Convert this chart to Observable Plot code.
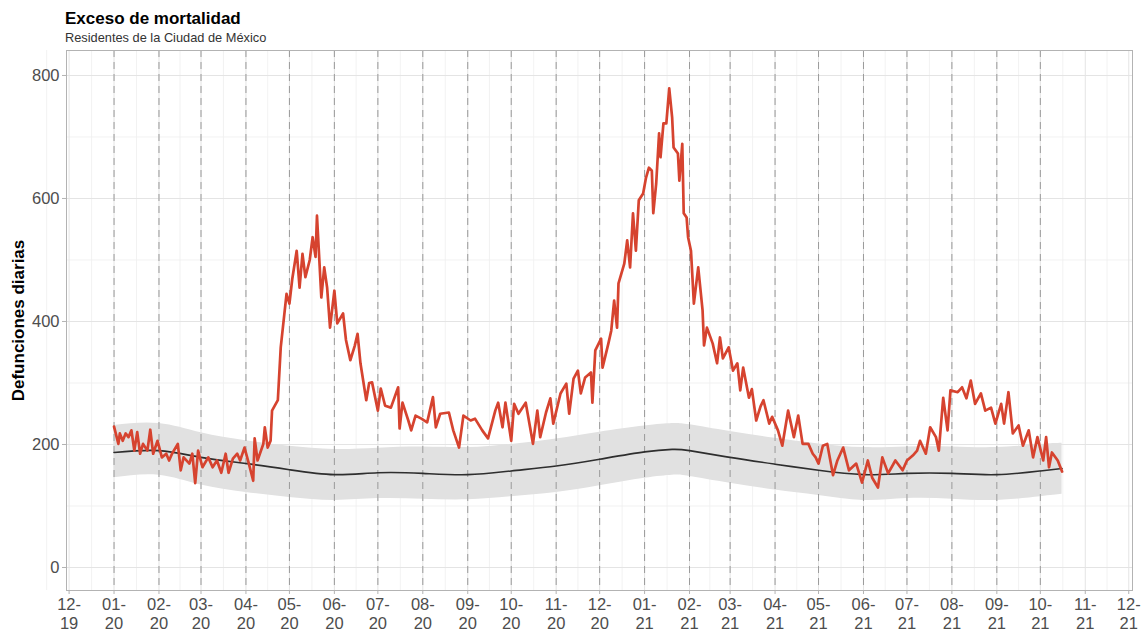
<!DOCTYPE html>
<html>
<head>
<meta charset="utf-8">
<script src="https://cdn.jsdelivr.net/npm/d3@7"></script>
<script src="https://cdn.jsdelivr.net/npm/@observablehq/plot@0.6"></script>
<style>
  html, body { margin: 0; padding: 0; background: #fff; overflow: hidden; }
  #wrap { position: relative; width: 1141px; height: 631px; font-family: "Liberation Sans", Arial, Helvetica, sans-serif; }
  #title { position: absolute; left: 65px; top: 9.9px; font-size: 17px; font-weight: bold; color: #000; line-height: 17px; white-space: nowrap; }
  #subtitle { position: absolute; left: 65px; top: 30.8px; font-size: 12.8px; color: #333; line-height: 13px; white-space: nowrap; }
  #chart { position: absolute; left: 0; top: 44px; }
  #chart svg { display: block; }
</style>
</head>
<body>
<div id="wrap">
  <div id="title">Exceso de mortalidad</div>
  <div id="subtitle">Residentes de la Ciudad de México</div>
  <div id="chart"></div>
</div>
<script>
const obsStart = "2020-01-01";
const obsDay = [
  0, 3, 4, 6, 8, 10, 12, 14, 16, 18, 20, 23, 25, 27, 30, 33, 36, 38, 40, 44,
  46, 48, 52, 54, 56, 58, 61, 65, 68, 71, 74, 77, 79, 82, 85, 87, 90, 93, 96, 97,
  99, 103, 104, 106, 108, 109, 113, 115, 119, 121, 123, 126, 128, 130, 132, 135, 137, 139, 140, 143,
  145, 147, 149, 152, 154, 158, 160, 163, 166, 168, 170, 174, 176, 178, 182, 184, 187, 191, 196, 197,
  199, 203, 205, 208, 212, 216, 220, 222, 225, 231, 234, 238, 241, 246, 249, 254, 258, 263, 265, 268,
  270, 274, 276, 279, 284, 287, 289, 292, 294, 298, 301, 303, 308, 312, 314, 317, 320, 322, 325, 329,
  330, 332, 336, 337, 341, 343, 345, 347, 348, 352, 354, 356, 358, 360, 362, 365, 367, 369, 371, 372,
  374, 376, 377, 379, 381, 383, 385, 386, 389, 390, 392, 393, 395, 396, 398, 400, 403, 406, 407, 409,
  413, 416, 418, 420, 424, 427, 430, 432, 434, 438, 440, 443, 446, 448, 452, 454, 458, 461, 465, 469,
  472, 475, 479, 482, 484, 486, 489, 492, 496, 499, 503, 507, 512, 516, 520, 523, 527, 530, 534, 539,
  544, 547, 551, 554, 556, 560, 563, 567, 569, 572, 575, 577, 582, 585, 588, 591, 594, 598, 601, 605,
  608, 612, 614, 617, 620, 624, 627, 631, 634, 637, 641, 643, 645, 647, 651, 654
];
const obsDeaths = [
  229, 201, 218, 206, 218, 212, 223, 190, 220, 185, 201, 190, 224, 185, 206, 179, 185, 174, 185, 201,
  158, 179, 169, 185, 137, 190, 163, 179, 163, 174, 154, 185, 154, 177, 185, 174, 195, 169, 141, 210,
  174, 201, 228, 195, 206, 255, 272, 358, 445, 429, 470, 515, 455, 510, 472, 500, 537, 505, 572, 439,
  488, 455, 390, 450, 397, 413, 370, 337, 360, 380, 332, 272, 300, 301, 255, 291, 263, 260, 293, 226,
  268, 239, 223, 247, 242, 236, 277, 228, 250, 252, 223, 195, 247, 239, 242, 223, 210, 255, 268, 228,
  268, 206, 266, 250, 268, 228, 201, 255, 212, 252, 275, 234, 283, 299, 250, 307, 320, 283, 309, 317,
  268, 353, 372, 325, 364, 385, 434, 390, 462, 494, 532, 488, 576, 515, 597, 608, 634, 650, 645, 576,
  624, 706, 667, 722, 722, 779, 732, 683, 673, 629, 689, 576, 569, 537, 515, 429, 488, 418, 361, 390,
  364, 332, 374, 340, 358, 320, 332, 288, 325, 276, 290, 239, 262, 272, 234, 245, 223, 198, 255, 212,
  247, 201, 201, 185, 179, 169, 198, 201, 150, 174, 195, 158, 169, 138, 174, 146, 130, 179, 153, 174,
  158, 174, 182, 190, 206, 185, 228, 212, 190, 276, 223, 288, 285, 293, 275, 304, 266, 283, 255, 260,
  234, 266, 234, 285, 218, 231, 198, 223, 179, 212, 174, 212, 163, 187, 174, 156
];

// ---- Expected deaths (black line) and its band (grey ribbon)
const expDates = [
  "2020-01-01", "2020-02-01", "2020-03-01", "2020-04-01", "2020-05-01", "2020-06-01",
  "2020-07-01", "2020-08-01", "2020-09-01", "2020-10-01", "2020-11-01", "2020-12-01",
  "2021-01-01", "2021-01-20", "2021-02-01", "2021-03-01", "2021-04-01", "2021-05-01",
  "2021-06-01", "2021-07-01", "2021-08-01", "2021-09-01", "2021-10-01", "2021-10-16"
];
const expMid  = [187, 190, 179, 169, 159, 151, 154, 153, 151, 157, 165, 176, 188, 192, 190, 179, 168, 158, 151, 153, 153, 151, 157, 161];
const expLow  = [146, 150, 134, 122, 114, 109, 112, 111, 110, 115, 122, 133, 145, 150, 148, 137, 126, 117, 109, 112, 111, 109, 115, 119];
const expHigh = [231, 234, 219, 206, 197, 192, 194, 196, 195, 200, 209, 220, 230, 234, 232, 221, 210, 201, 195, 196, 196, 195, 200, 202];

// ---- Axis ticks
const yMajor = [0, 200, 400, 600, 800];
const yMinor = [100, 300, 500, 700];
const xTickStart = "2019-12-01", xTickEnd = "2021-12-01";
const dashStart = "2020-01-01", dashEnd = "2021-10-01";

// ---- Build tables
const parse = d3.utcParse("%Y-%m-%d");
const t0 = parse(obsStart);
const observed = obsDay.map((d, i) => ({date: d3.utcDay.offset(t0, d), value: obsDeaths[i]}));
const expected = expDates.map((d, i) => ({date: parse(d), mid: expMid[i], low: expLow[i], high: expHigh[i]}));

const monthTicks = d3.utcMonth.range(parse(xTickStart), d3.utcDay.offset(parse(xTickEnd), 1));
const dashMonths = d3.utcMonth.range(parse(dashStart), d3.utcDay.offset(parse(dashEnd), 1));
const xMinor = monthTicks.slice(1).map((d, i) => new Date((+d + +monthTicks[i]) / 2));
xMinor.unshift(new Date(+monthTicks[0] - (+monthTicks[1] - +monthTicks[0]) / 2));
xMinor.push(new Date(+monthTicks[monthTicks.length - 1] + (+monthTicks[1] - +monthTicks[0]) / 2));

const fmtM = d3.utcFormat("%m-"), fmtY = d3.utcFormat("%y");
const font = "'Liberation Sans', Arial, Helvetica, sans-serif";

const chart = Plot.plot({
  width: 1141,
  height: 587,
  marginLeft: 66,
  marginRight: 9,
  marginTop: 6,
  marginBottom: 41,
  style: {fontFamily: font, background: "#fff", overflow: "visible"},
  x: {type: "utc", domain: [new Date("2019-11-29T05:00:00Z"), new Date("2021-12-03T14:00:00Z")]},
  y: {domain: [-37.4, 840.6]},
  marks: [
    Plot.ruleY(yMinor, {stroke: "#efefef", strokeWidth: 0.8}),
    Plot.ruleX(xMinor, {stroke: "#efefef", strokeWidth: 0.8}),
    Plot.ruleY(yMajor, {stroke: "#e4e4e4", strokeWidth: 1}),
    Plot.ruleX(monthTicks, {stroke: "#e4e4e4", strokeWidth: 1}),
    Plot.areaY(expected, {x: "date", y1: "low", y2: "high", fill: "#e1e1e1", curve: "natural"}),
    Plot.ruleX(dashMonths, {stroke: "#9a9a9a", strokeWidth: 1, strokeDasharray: "7,5"}),
    Plot.lineY(expected, {x: "date", y: "mid", stroke: "#2e2e2e", strokeWidth: 1.6, curve: "natural"}),
    Plot.lineY(observed, {x: "date", y: "value", stroke: "#d6432f", strokeWidth: 2.7, strokeLinejoin: "round"}),
    Plot.frame({stroke: "#b3b3b3", strokeWidth: 1}),
    Plot.axisY({ticks: yMajor, tickSize: 4, tickPadding: 3, stroke: "#b3b3b3", fill: "#4d4d4d",
                fontSize: 16.5, label: null, tickFormat: d => String(d)}),
    Plot.axisX({ticks: monthTicks, tickSize: 4, tickPadding: 3, stroke: "#b3b3b3", fill: "#4d4d4d",
                fontSize: 16.5, lineHeight: 1.1, label: null,
                tickFormat: d => fmtM(d) + "\n" + fmtY(d)}),
    Plot.text(["Defunciones diarias"], {frameAnchor: "left", textAnchor: "middle", rotate: -90, dx: -48,
                fontSize: 17, fontWeight: "bold", fill: "#000"})
  ]
});
document.getElementById("chart").appendChild(chart);
</script>
</body>
</html>
